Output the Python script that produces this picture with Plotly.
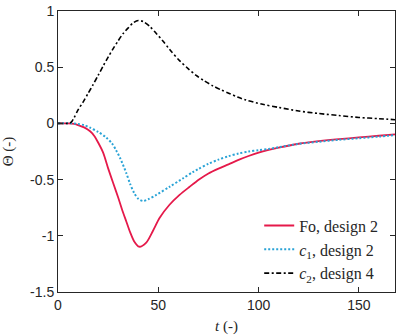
import plotly.graph_objects as go

# ---- data ----
t_fo = [0, 5, 8, 10, 13, 16, 18, 20, 22.5, 25, 27.5, 30, 32, 34, 36, 38, 40.4, 44, 47.3, 50.7, 55.6, 60.6, 65.6, 70.5, 75, 80, 85, 90, 95, 100, 105, 110, 120, 130, 140, 150, 160, 168]
fo_d2 = [0, 0, -0.004, -0.015, -0.035, -0.07, -0.11, -0.17, -0.26, -0.40, -0.53, -0.66, -0.77, -0.87, -0.97, -1.05, -1.097, -1.06, -0.957, -0.84, -0.724, -0.636, -0.564, -0.497, -0.445, -0.402, -0.364, -0.325, -0.29, -0.26, -0.236, -0.215, -0.181, -0.158, -0.14, -0.125, -0.11, -0.098]

t_c1 = [0, 8, 10, 13, 16, 20, 24, 27, 29, 31, 34, 36, 38, 40, 42.4, 45, 49, 55.6, 62.2, 67.2, 70, 75, 80, 85, 90, 95, 100, 105, 110, 120, 130, 140, 150, 160, 168]
c1_d2 = [0, 0, -0.005, -0.015, -0.038, -0.075, -0.125, -0.18, -0.24, -0.31, -0.44, -0.54, -0.62, -0.67, -0.69, -0.675, -0.636, -0.564, -0.49, -0.433, -0.405, -0.36, -0.322, -0.292, -0.268, -0.25, -0.238, -0.228, -0.212, -0.182, -0.163, -0.146, -0.132, -0.117, -0.105]

t_c2 = [0, 5, 6, 7, 8, 10, 12.5, 15, 17.5, 20, 22.5, 25, 27.5, 30, 32.5, 35, 37.5, 40, 42.5, 45.7, 49, 52.3, 56, 60.6, 64.7, 68.9, 73, 77.2, 81.3, 85.4, 89.5, 93.7, 102, 110, 120, 130, 140, 150, 160, 168]
c2_d4 = [0, 0, 0.003, 0.02, 0.05, 0.12, 0.19, 0.267, 0.345, 0.427, 0.51, 0.59, 0.665, 0.735, 0.80, 0.85, 0.895, 0.916, 0.905, 0.864, 0.80, 0.733, 0.65, 0.558, 0.49, 0.427, 0.378, 0.334, 0.298, 0.267, 0.235, 0.208, 0.17, 0.142, 0.11, 0.088, 0.07, 0.053, 0.042, 0.033]

x_ticks = [0, 50, 100, 150]
y_ticks = [-1.5, -1, -0.5, 0, 0.5, 1]
y_tick_text = ["-1.5", "-1", "-0.5", "0", "0.5", "1"]
names = ["Fo, design 2", "<i>c</i><sub>1</sub>, design 2", "<i>c</i><sub>2</sub>, design 4"]

fig = go.Figure()
fig.add_trace(go.Scatter(x=t_fo, y=fo_d2, mode="lines", name=names[0],
                         line=dict(color="#E5194A", width=1.8, shape="spline", smoothing=0.8)))
fig.add_trace(go.Scatter(x=t_c1, y=c1_d2, mode="lines", name=names[1],
                         line=dict(color="#2AA3D6", width=2, dash="2px,2px", shape="spline", smoothing=0.8)))
fig.add_trace(go.Scatter(x=t_c2, y=c2_d4, mode="lines", name=names[2],
                         line=dict(color="black", width=1.6, dash="5px,2.5px,2px,2.5px", shape="spline", smoothing=0.8)))

axis_common = dict(showline=True, linecolor="#262626", linewidth=1, mirror="ticks",
                   ticks="inside", ticklen=5, tickcolor="#262626", showgrid=False, zeroline=False,
                   ticklabeloverflow="allow",
                   tickfont=dict(family="Liberation Sans", size=14, color="#262626"))

fig.update_xaxes(range=[0, 168], tickvals=x_ticks,
                 title=dict(text="<i>t</i> (-)", font=dict(family="Liberation Serif", size=15, color="#262626"), standoff=8),
                 **axis_common)
fig.update_yaxes(range=[-1.5, 1], tickvals=y_ticks, ticktext=y_tick_text,
                 title=dict(text="Θ (-)", font=dict(family="Liberation Serif", size=15, color="#262626"), standoff=16),
                 **axis_common)

fig.update_layout(
    width=399, height=336,
    margin=dict(l=58, r=3, t=6, b=44),
    paper_bgcolor="white", plot_bgcolor="white",
    showlegend=True,
    legend=dict(x=0.965, y=0.005, xanchor="right", yanchor="bottom",
                bgcolor="rgba(0,0,0,0)", borderwidth=0,
                font=dict(family="Liberation Serif", size=16, color="#262626"),
                tracegroupgap=0, itemwidth=30),
)

fig.write_html("out.html", config={"displayModeBar": False},
               post_script="document.body.style.margin='0px';document.body.style.padding='0px';")
